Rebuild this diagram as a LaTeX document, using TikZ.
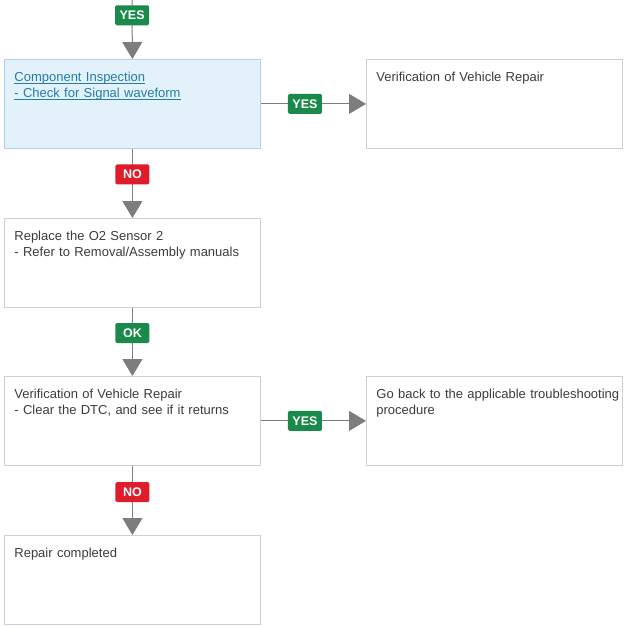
\documentclass[tikz,border=0pt]{standalone}
\usepackage{fontspec}
\usepackage{calc}
\setmainfont{Liberation Sans}
\usetikzlibrary{arrows.meta}
\definecolor{txt}{RGB}{60,60,60}
\definecolor{link}{RGB}{35,125,170}
\definecolor{bord}{RGB}{208,206,212}
\definecolor{bluefill}{RGB}{226,241,250}
\definecolor{blueborder}{RGB}{172,212,232}
\definecolor{arrgray}{RGB}{125,125,125}
\definecolor{yesgreen}{RGB}{26,138,74}
\definecolor{nored}{RGB}{222,28,42}
\newcommand\myul[1]{\leavevmode\rlap{#1}\rule[-2pt]{\widthof{#1}}{0.8pt}}
\tikzset{
  stepbox/.style={draw=bord, line width=0.8pt, fill=white, anchor=north west,
    text width=236pt, align=left, inner xsep=10pt, inner ysep=12pt,
    text height=10pt, text depth=55pt, text=txt,
    font=\fontsize{13}{16}\selectfont},
  linkbox/.style={stepbox, draw=blueborder, fill=bluefill, text=link},
  arr/.style={draw=arrgray, line width=1pt,
    -{Triangle[width=20pt,length=17pt,fill=arrgray]}},
  lab/.style={rounded corners=1.5pt, text=white, inner xsep=3pt, inner ysep=0pt,
    minimum height=20pt, minimum width=34pt,
    font=\fontsize{12.5}{14}\selectfont\bfseries},
  yes/.style={lab, fill=yesgreen},
  no/.style={lab, fill=nored}
}
\begin{document}
\begin{tikzpicture}[x=1pt,y=-1pt]
\useasboundingbox (0,0) rectangle (626,626);
\node[linkbox] (b1) at (4,59) {\myul{Component Inspection}\\\myul{- Check for Signal waveform}};
\node[stepbox] (b2) at (366,59) {Verification of Vehicle Repair};
\node[stepbox] (b3) at (4,218) {Replace the O2 Sensor 2\\- Refer to Removal/Assembly manuals};
\node[stepbox] (b4) at (4,376) {Verification of Vehicle Repair\\- Clear the DTC, and see if it returns};
\node[stepbox] (b5) at (366,376) {\mbox{Go back to the applicable troubleshooting}\\procedure};
\node[stepbox] (b6) at (4,535) {Repair completed};
\coordinate (start) at (132,0);
\draw[arr] (start) -- node[yes, pos=0.26] (l0) {YES} (b1.north);
\draw[arr] (b1.east) -- node[yes, pos=0.42] (l1) {YES} (b2.west);
\draw[arr] (b1.south) -- node[no, pos=0.37] (l2) {NO} (b3.north);
\draw[arr] (b3.south) -- node[yes, pos=0.37] (l3) {OK} (b4.north);
\draw[arr] (b4.east) -- node[yes, pos=0.42] (l4) {YES} (b5.west);
\draw[arr] (b4.south) -- node[no, pos=0.38] (l5) {NO} (b6.north);
\end{tikzpicture}
\end{document}
